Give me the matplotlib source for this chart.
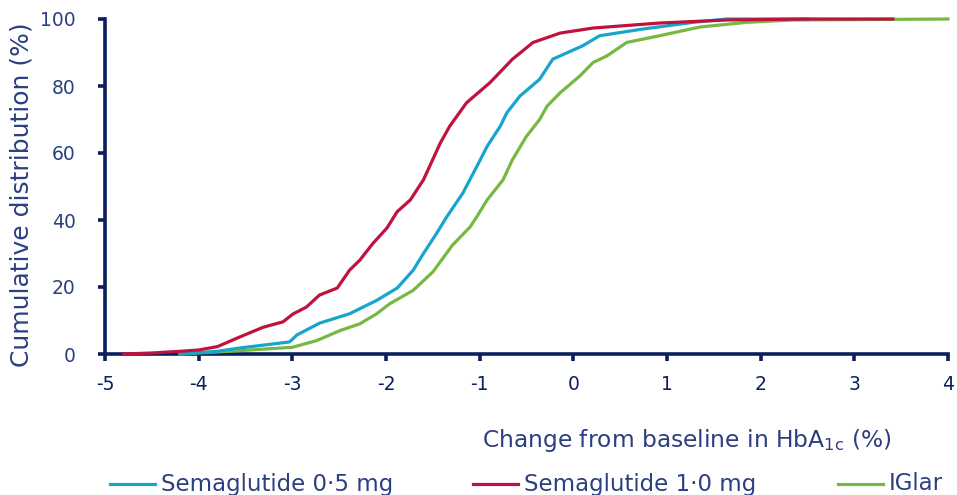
import matplotlib
matplotlib.use("Agg")
import matplotlib.pyplot as plt
from matplotlib.lines import Line2D

# Data
red_x = [-4.8, -4.5, -4.2, -4.0, -3.8, -3.56, -3.31, -3.1, -2.99, -2.85, -2.71, -2.52, -2.39, -2.28,
         -2.14, -1.99, -1.88, -1.74, -1.6, -1.42, -1.32, -1.14, -0.89, -0.65, -0.43, -0.14, 0.21,
         0.92, 1.64, 2.5, 3.41]
red_y = [0, 0.3, 0.8, 1.2, 2.2, 5.1, 8, 9.6, 12, 14, 17.6, 19.7, 25, 28,
         33, 37.6, 42.5, 46, 52, 63, 68, 75, 81, 88, 93, 95.8, 97.3,
         98.8, 99.7, 100, 100]

cyan_x = [-4.2, -3.8, -3.56, -3.03, -2.95, -2.71, -2.39, -2.1, -1.88, -1.71, -1.6, -1.46, -1.35,
          -1.18, -1.03, -0.92, -0.78, -0.71, -0.57, -0.36, -0.22, -0.14, 0.1, 0.28, 0.74, 1.28,
          1.64, 2.5]
cyan_y = [0, 0.8, 1.8, 3.6, 5.7, 9.2, 12, 16, 19.7, 25, 30, 36, 41,
          48, 56, 62, 68, 72, 77, 82, 88, 89, 92, 95, 97, 99,
          100, 100]

green_x = [-4.2, -3.56, -3.0, -2.74, -2.49, -2.28, -2.1, -1.96, -1.71, -1.5, -1.29, -1.1, -1.03,
           -0.92, -0.75, -0.65, -0.5, -0.36, -0.28, -0.14, 0.07, 0.21, 0.36, 0.57, 0.92, 1.35,
           1.85, 2.34, 4.0]
green_y = [0, 1, 2, 4, 7, 9, 12, 15, 19, 24.5, 32.5, 38, 41,
           46, 52, 58, 65, 70, 74, 78, 83, 87, 89, 93, 95, 97.6,
           99, 99.7, 100]

series_labels = ["Semaglutide 0·5 mg", "Semaglutide 1·0 mg", "IGlar"]
x_ticks = [-5, -4, -3, -2, -1, 0, 1, 2, 3, 4]
y_ticks = [0, 20, 40, 60, 80, 100]

c_cyan = "#17a5cc"
c_red = "#c0123e"
c_green = "#76b843"
navy = "#0b1f5e"
label_col = "#2c3f80"

W, H = 957, 495
fig = plt.figure(figsize=(W / 100, H / 100), dpi=100)
ax = fig.add_axes([105 / W, 1 - 354 / H, (948 - 105) / W, (354 - 19) / H])

lw = 2.3
ax.plot(green_x, green_y, color=c_green, lw=lw, clip_on=False, zorder=3)
ax.plot(cyan_x, cyan_y, color=c_cyan, lw=lw, clip_on=False, zorder=4)
ax.plot(red_x, red_y, color=c_red, lw=lw, clip_on=False, zorder=5)

ax.set_xlim(-5, 4)
ax.set_ylim(0, 100)
ax.set_xticks(x_ticks)
ax.set_xticklabels([str(t) for t in x_ticks])
ax.set_yticks(y_ticks)

for s in ["top", "right"]:
    ax.spines[s].set_visible(False)
for s in ["left", "bottom"]:
    ax.spines[s].set_color(navy)
    ax.spines[s].set_linewidth(2.6)

ax.tick_params(axis="both", direction="out", length=5, width=2.6, color=navy)
ax.tick_params(axis="x", labelsize=13.5, labelcolor=navy, pad=10)
ax.tick_params(axis="y", labelsize=13.5, labelcolor=label_col, pad=16)

ax.set_ylabel("Cumulative distribution (%)", fontsize=18, color=label_col)
ax.yaxis.set_label_coords((34 - 105) / (948 - 105), (354 - 195) / (354 - 19))
fig.text(482 / W, 1 - 440 / H, r"Change from baseline in HbA$_{\mathregular{1c}}$ (%)",
         fontsize=16.8, color=label_col, ha="left", va="center")

# Legend drawn manually at the bottom
colors = [c_cyan, c_red, c_green]
line_starts = [110, 473, 838]
line_ends = [155, 518, 883]
leg_y = 1 - 484 / H
for lab, col, x0, x1 in zip(series_labels, colors, line_starts, line_ends):
    fig.add_artist(Line2D([x0 / W, x1 / W], [leg_y, leg_y], color=col, lw=lw,
                          transform=fig.transFigure))
    fig.text((x1 + 6) / W, leg_y, lab, fontsize=16.5, color=label_col,
             ha="left", va="center")

fig.savefig("out.png", dpi=100)
